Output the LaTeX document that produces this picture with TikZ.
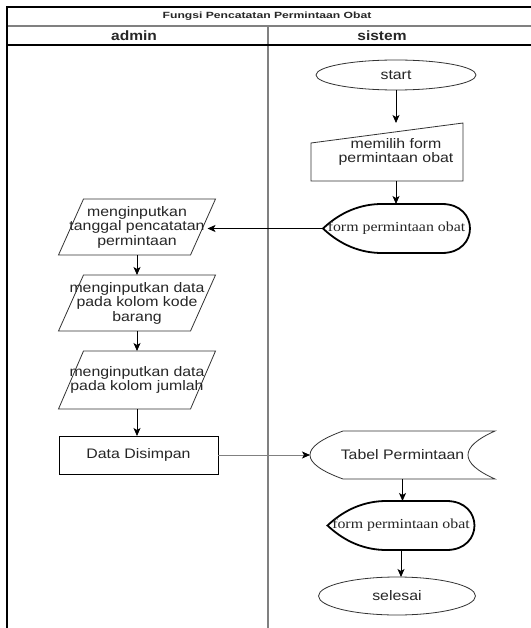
\documentclass[tikz,border=0pt]{standalone}
\usepackage{fontspec}
\setmainfont[FakeStretch=1.15]{Liberation Sans}
\newfontfamily\serx[FakeStretch=1.15]{Liberation Serif}
\newfontfamily\titlefont[FakeStretch=1.35]{Liberation Sans}
\usetikzlibrary{shapes.geometric,arrows.meta}
\begin{document}
\begin{tikzpicture}[x=1pt,y=-1pt,
  every node/.style={inner sep=0pt, outer sep=0pt, text=black!85},
  body/.style={font=\fontsize{13.8}{14.5}\selectfont, align=center},
  sertxt/.style={font=\serx\fontsize{13.8}{14.5}\selectfont},
  term/.style={ellipse, draw=black!80, line width=0.8pt, body},
  procbox/.style={rectangle, draw=black, line width=0.9pt, body},
  arr/.style={-{Stealth[length=8pt,width=7pt,inset=2pt,color=black]}, line width=0.8pt, draw=black},
  thinline/.style={draw=black!80, line width=0.8pt},
  display/.pic={\draw[line width=1.8pt, draw=black]
     (-73.5,0) .. controls (-56,-16.5) and (-36,-24.5) .. (-14.5,-24.5)
     -- (45.5,-24.5) .. controls (82.8,-24.5) and (82.8,24.5) .. (45.5,24.5)
     -- (-14.5,24.5) .. controls (-36,24.5) and (-56,16.5) .. cycle;},
  stored/.pic={\draw[draw=black!80, line width=0.8pt]
     (-59.5,-24) -- (92.5,-24) .. controls (56.5,-8) and (56.5,8) .. (92.5,24)
     -- (-59.5,24) .. controls (-103.5,8) and (-103.5,-8) .. cycle;}
]
\useasboundingbox (0,0) rectangle (530,628);
\fill[white] (0,0) rectangle (530,628);
% swimlane frame
\draw[gray, line width=1.8pt] (7,26) -- (532,26);
\draw[gray, line width=1.5pt] (268,26) -- (268,630);
\draw[line width=1.2pt] (7,7) -- (532,7);
\draw[line width=1.2pt] (7,45) -- (532,45);
\draw[line width=1.2pt] (7,6.4) -- (7,630);
\node[font=\titlefont\bfseries\fontsize{9}{10}\selectfont] (title) at (267,16) {Fungsi Pencatatan Permintaan Obat};
\node[font=\bfseries\fontsize{13.5}{14}\selectfont] (hadmin) at (134,36) {admin};
\node[font=\bfseries\fontsize{13.5}{14}\selectfont] (hsistem) at (382,36) {sistem};

% sistem lane
\node[term, minimum width=160pt, minimum height=30pt] (start) at (396,75) {start};
\draw[thinline] (311,143) -- (463,123) -- (463,181) -- (311,181) -- cycle;
\node[body, minimum width=140pt, minimum height=58pt] (mi) at (396,152) {memilih form\\permintaan obat};
\pic at (396.5,228.5) {display};
\node[sertxt, minimum width=147pt, minimum height=49pt] (d1) at (396.5,228.5) {form permintaan obat};

% admin lane
\draw[thinline, shift={(137,227)}] (-78.5,28) -- (53.5,28) -- (78.5,-28) -- (-53.5,-28) -- cycle;
\node[body, minimum width=141pt, minimum height=56pt] (p1) at (137,227) {menginputkan\\tanggal pencatatan\\permintaan};
\draw[thinline, shift={(137,303)}] (-78.5,28) -- (53.5,28) -- (78.5,-28) -- (-53.5,-28) -- cycle;
\node[body, minimum width=141pt, minimum height=56pt] (p2) at (137,303) {menginputkan data\\pada kolom kode\\barang};
\draw[thinline, shift={(137,380)}] (-78.5,29) -- (53.5,29) -- (78.5,-29) -- (-53.5,-29) -- cycle;
\node[body, minimum width=141pt, minimum height=58pt] (p3) at (137,380) {menginputkan data\\pada kolom jumlah};
\node[procbox, minimum width=159pt, minimum height=38pt] (ds) at (138.5,455) {Data Disimpan};

\pic at (402.5,455) {stored};
\node[body, minimum width=185pt, minimum height=48pt] (st) at (402.5,455) {Tabel Permintaan};
\pic at (401,525.5) {display};
\node[sertxt, minimum width=147pt, minimum height=49pt] (d2) at (401,525.5) {form permintaan obat};
\node[term, minimum width=157pt, minimum height=38pt] (stop) at (397,596) {selesai};

% connectors
\draw[arr] (start.south) -- (mi.north);
\draw[arr] (mi.south) -- (mi.south |- d1.north);
\draw[arr] (d1.west) -- (d1.west -| p1.east);
\draw[arr] (p1.south) -- (p2.north);
\draw[arr] (p2.south) -- (p3.north);
\draw[arr] (p3.south) -- (p3.south |- ds.north);
\draw[arr, draw=gray] (ds.east) -- (st.west);
\draw[arr] (st.south) -- (st.south |- d2.north);
\draw[arr] (d2.south) -- (d2.south |- stop.north);
\end{tikzpicture}
\end{document}
